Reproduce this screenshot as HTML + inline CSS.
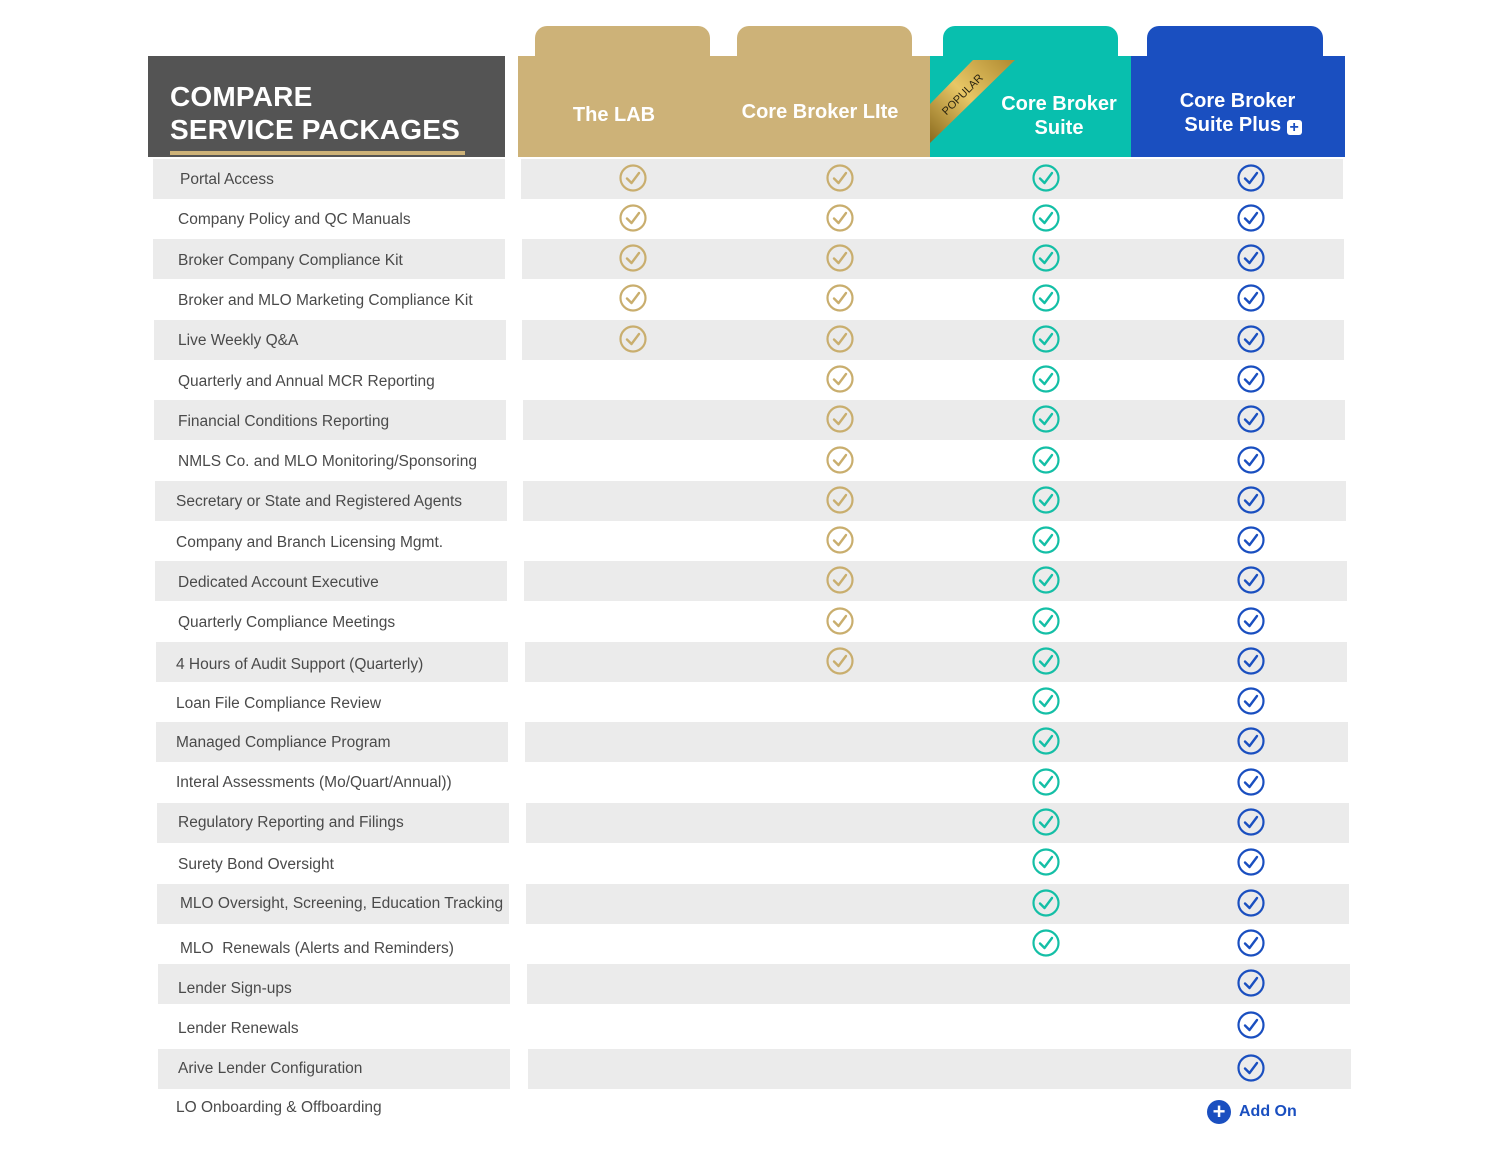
<!DOCTYPE html>
<html><head><meta charset="utf-8"><style>
body{margin:0;width:1500px;height:1159px;background:#fff;position:relative;overflow:hidden;font-family:"Liberation Sans",sans-serif}
.a{position:absolute}
.band{position:absolute;background:#ebebeb;height:40px}
.lbl{position:absolute;font-size:15.5px;color:#4a4a4a;line-height:20px;white-space:nowrap}
.hd{position:absolute;color:#fff;font-weight:bold;font-size:20px;text-align:center;line-height:24px}
</style></head><body>
<div class="a" style="left:148px;top:56px;width:357px;height:101px;background:#545454"></div>
<div class="a" style="left:170px;top:80px;color:#fff;font-weight:bold;font-size:28px;line-height:33px;letter-spacing:0.2px">COMPARE<br>SERVICE PACKAGES</div>
<div class="a" style="left:170px;top:151px;width:295px;height:4px;background:#cdb278"></div>

<div class="a" style="left:535px;top:26px;width:175px;height:40px;background:#cdb278;border-radius:12px 12px 0 0"></div>
<div class="a" style="left:737px;top:26px;width:175px;height:40px;background:#cdb278;border-radius:12px 12px 0 0"></div>
<div class="a" style="left:943px;top:26px;width:175px;height:40px;background:#08bfae;border-radius:12px 12px 0 0"></div>
<div class="a" style="left:1147px;top:26px;width:176px;height:40px;background:#1a4fc0;border-radius:12px 12px 0 0"></div>
<div class="a" style="left:518px;top:56px;width:412px;height:101px;background:#cdb278"></div>
<div class="a" style="left:930px;top:56px;width:201px;height:101px;background:#08bfae"></div>
<div class="a" style="left:1131px;top:56px;width:214px;height:101px;background:#1a4fc0"></div>
<svg class="a" style="left:0;top:0" width="1500" height="160">
<defs><linearGradient id="g" x1="0" y1="1" x2="1" y2="0"><stop offset="0" stop-color="#8a6a1e"/><stop offset="0.5" stop-color="#e8c766"/><stop offset="1" stop-color="#b08a30"/></linearGradient></defs>
<polygon points="973,60 1015,60 930,143 930,104" fill="url(#g)"/>
<text x="0" y="0" transform="translate(965,97) rotate(-45)" font-family="Liberation Sans" font-size="11" fill="#2a2410" text-anchor="middle">POPULAR</text>
</svg>
<div class="hd" style="left:518px;top:103px;width:192px">The LAB</div>
<div class="hd" style="left:720px;top:100px;width:200px">Core Broker LIte</div>
<div class="hd" style="left:985px;top:92px;width:148px">Core Broker<br>Suite</div>
<div class="hd" style="left:1150px;top:89px;width:175px">Core Broker<br>&nbsp;&nbsp;Suite Plus <span style="display:inline-block;width:15px;height:15px;background:#fff;border-radius:3px;color:#1a4fc0;font-size:16px;line-height:15px;vertical-align:-1px">+</span></div>

<div id="rows"></div>
<div class="lbl" style="left:180px;top:170px">Portal Access</div>
<div class="lbl" style="left:178px;top:210px">Company Policy and QC Manuals</div>
<div class="lbl" style="left:178px;top:251px">Broker Company Compliance Kit</div>
<div class="lbl" style="left:178px;top:291px">Broker and MLO Marketing Compliance Kit</div>
<div class="lbl" style="left:178px;top:331px">Live Weekly Q&amp;A</div>
<div class="lbl" style="left:178px;top:372px">Quarterly and Annual MCR Reporting</div>
<div class="lbl" style="left:178px;top:412px">Financial Conditions Reporting</div>
<div class="lbl" style="left:178px;top:452px">NMLS Co. and MLO Monitoring/Sponsoring</div>
<div class="lbl" style="left:176px;top:492px">Secretary or State and Registered Agents</div>
<div class="lbl" style="left:176px;top:533px">Company and Branch Licensing Mgmt.</div>
<div class="lbl" style="left:178px;top:573px">Dedicated Account Executive</div>
<div class="lbl" style="left:178px;top:613px">Quarterly Compliance Meetings</div>
<div class="lbl" style="left:176px;top:655px">4 Hours of Audit Support (Quarterly)</div>
<div class="lbl" style="left:176px;top:694px">Loan File Compliance Review</div>
<div class="lbl" style="left:176px;top:733px">Managed Compliance Program</div>
<div class="lbl" style="left:176px;top:773px">Interal Assessments (Mo/Quart/Annual))</div>
<div class="lbl" style="left:178px;top:813px">Regulatory Reporting and Filings</div>
<div class="lbl" style="left:178px;top:855px">Surety Bond Oversight</div>
<div class="lbl" style="left:180px;top:894px">MLO Oversight, Screening, Education Tracking</div>
<div class="lbl" style="left:180px;top:939px">MLO&nbsp; Renewals (Alerts and Reminders)</div>
<div class="lbl" style="left:178px;top:979px">Lender Sign-ups</div>
<div class="lbl" style="left:178px;top:1019px">Lender Renewals</div>
<div class="lbl" style="left:178px;top:1059px">Arive Lender Configuration</div>
<div class="lbl" style="left:176px;top:1098px">LO Onboarding &amp; Offboarding</div>
<div class="a" style="left:1207px;top:1100px;width:24px;height:24px;border-radius:50%;background:#1a4fc0;color:#fff;font-weight:bold;font-size:22px;line-height:23px;text-align:center">+</div>
<div class="a" style="left:1239px;top:1103px;color:#1a4fc0;font-weight:bold;font-size:16px">Add On</div>
<script>
var c=[178,218,258,298,339,379,419,460,500,540,580,621,661,701,741,782,822,862,903,943,983,1025,1068];
var s='';
c.forEach(function(y,i){
 if(i%2==0){
  s+='<div class="band" style="left:'+(153+i*0.23)+'px;top:'+(y-19)+'px;width:352px"></div>';
  s+='<div class="band" style="left:'+(521+i*0.3)+'px;top:'+(y-19)+'px;width:'+(822+i*0.05)+'px"></div>';
 }
});
function ic(x,y,col){return '<svg class="a" style="left:'+(x-15)+'px;top:'+(y-15)+'px" width="30" height="30"><circle cx="15" cy="15" r="12.5" fill="none" stroke="'+col+'" stroke-width="2.2"/><polyline points="9,15.5 13.5,20 21,10" fill="none" stroke="'+col+'" stroke-width="2.4" stroke-linecap="round" stroke-linejoin="round"/></svg>';}
c.forEach(function(y,i){
 if(i<5)s+=ic(633,y,'#c9ae6e');
 if(i<13)s+=ic(840,y,'#c9ae6e');
 if(i<20)s+=ic(1046,y,'#14bfa6');
 s+=ic(1251,y,'#1a4fc0');
});
document.getElementById('rows').innerHTML=s;
</script>
</body></html>
